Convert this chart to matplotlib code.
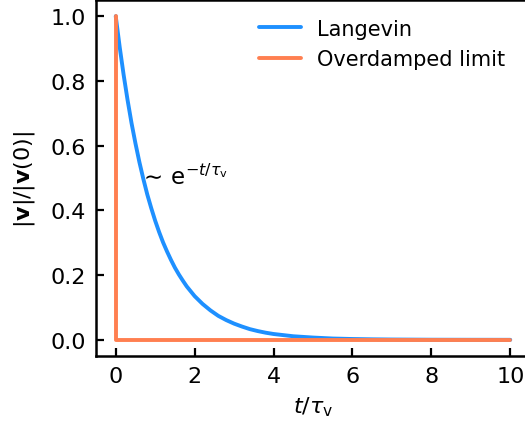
import matplotlib
matplotlib.use("Agg")
import matplotlib.pyplot as plt

# Langevin velocity decay (t in units of tau_v)
t_langevin = [0.0, 0.1, 0.2, 0.3, 0.4, 0.5, 0.6, 0.7, 0.8, 0.9, 1.0,
              1.1, 1.2, 1.3, 1.4, 1.5, 1.6, 1.7, 1.8, 1.9, 2.0,
              2.2, 2.4, 2.6, 2.8, 3.0, 3.2, 3.4, 3.6, 3.8, 4.0,
              4.5, 5.0, 5.5, 6.0, 6.5, 7.0, 8.0, 9.0, 10.0]
v_langevin = [1.000, 0.905, 0.819, 0.741, 0.670, 0.607, 0.549, 0.497, 0.449,
              0.407, 0.368, 0.333, 0.301, 0.273, 0.247, 0.223, 0.202, 0.183,
              0.165, 0.150, 0.135, 0.111, 0.091, 0.074, 0.061, 0.050, 0.041,
              0.033, 0.027, 0.022, 0.018, 0.011, 0.007, 0.004, 0.0025, 0.0015,
              0.0009, 0.0003, 0.0001, 0.0]

# Overdamped limit: instant drop to zero
t_overdamped = [0.0, 0.0, 10.0]
v_overdamped = [1.0, 0.0, 0.0]

x_ticks = [0, 2, 4, 6, 8, 10]
y_ticks = [0.0, 0.2, 0.4, 0.6, 0.8, 1.0]

plt.rcParams['mathtext.fontset'] = 'dejavusans'
plt.rcParams['font.size'] = 16

fig = plt.figure(figsize=(5.25, 4.27), dpi=100)
ax = fig.add_axes([96 / 525, 70 / 427, 434 / 525, 356 / 427])

ax.plot(t_langevin, v_langevin, color='#1E90FF', lw=2.8,
        solid_capstyle='round', solid_joinstyle='round', label='Langevin')
ax.plot(t_overdamped, v_overdamped, color='#FF7F50', lw=2.8,
        solid_capstyle='round', label='Overdamped limit')

ax.text(0.60, 0.505, r'$\sim\,\mathrm{e}^{-t/\tau_\mathrm{v}}$', fontsize=16.5,
        va='center', ha='left')

ax.set_xlim(-0.5, 10.5)
ax.set_ylim(-0.05, 1.05)
ax.set_xticks(x_ticks)
ax.set_yticks(y_ticks)
ax.tick_params(direction='in', length=6, width=1.6, labelsize=16, pad=7)
for side in ['left', 'bottom', 'top']:
    ax.spines[side].set_linewidth(1.8)
ax.spines['right'].set_visible(False)

ax.set_xlabel(r'$t/\tau_\mathrm{v}$', fontsize=16, labelpad=6)
ax.set_ylabel(r'$|\mathbf{v}|/|\mathbf{v}(0)|$', fontsize=16, labelpad=10)

ax.legend(loc='upper right', frameon=False, fontsize=15, handlelength=2.0,
          handletextpad=0.75, labelspacing=0.5, bbox_to_anchor=(0.985, 1.0))

fig.savefig("out.png", dpi=100)
